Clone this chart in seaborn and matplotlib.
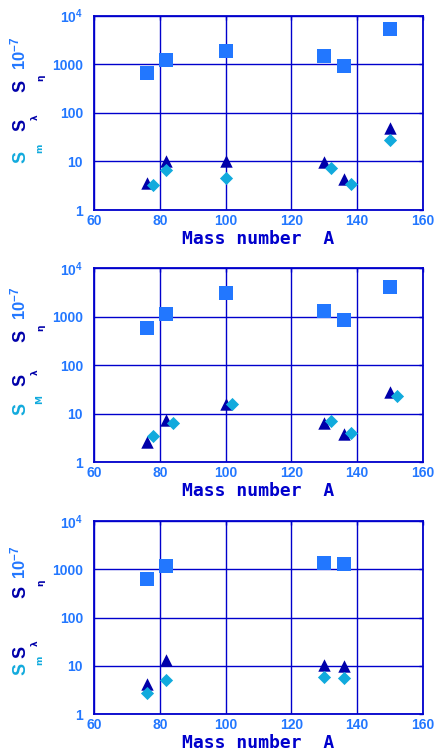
import numpy as np
import pandas as pd
import matplotlib
matplotlib.use("Agg")
import matplotlib.pyplot as plt
from matplotlib.ticker import FixedLocator, NullLocator, FixedFormatter
import seaborn as sns

sns.set_style("white")
plt.rcParams["mathtext.fontset"] = "custom"
plt.rcParams["mathtext.rm"] = "Liberation Sans:bold"
plt.rcParams["mathtext.bf"] = "Liberation Sans:bold"
plt.rcParams["mathtext.it"] = "Liberation Sans:bold"
plt.rcParams["mathtext.sf"] = "Liberation Sans:bold"

# ---- data: mass number A and the three quantities for each panel ----
# panel 1
p1_sq_A = [76, 82, 100, 130, 136, 150]
p1_sq_v = [670, 1220, 1850, 1500, 905, 5400]
p1_tri_A = [76, 82, 100, 130, 136, 150]
p1_tri_v = [3.55, 10.2, 10.0, 9.9, 4.3, 49.5]
p1_dia_A = [78, 82, 100, 132, 138, 150]
p1_dia_v = [3.27, 6.6, 4.6, 7.2, 3.5, 27.6]

# panel 2
p2_sq_A = [76, 82, 100, 130, 136, 150]
p2_sq_v = [590, 1125, 3050, 1300, 850, 4060]
p2_tri_A = [76, 82, 100, 130, 136, 150]
p2_tri_v = [2.65, 7.4, 15.6, 6.5, 3.9, 27.5]
p2_dia_A = [78, 84, 102, 132, 138, 152]
p2_dia_v = [3.5, 6.5, 15.9, 7.0, 4.1, 23.3]

# panel 3
p3_sq_A = [76, 82, 130, 136]
p3_sq_v = [615, 1140, 1335, 1250]
p3_tri_A = [76, 82, 130, 136]
p3_tri_v = [4.2, 13.3, 10.6, 9.8]
p3_dia_A = [76, 82, 130, 136]
p3_dia_v = [2.8, 5.2, 6.0, 5.6]

x_ticks = [60, 80, 100, 120, 140, 160]
x_tick_labels = ["60", "80", "100", "120", "140", "160"]
y_ticks = [1, 10, 100, 1000, 10000]
y_tick_labels = ["1", "10", "100", "1000", r"$\mathbf{10^4}$"]
x_title = "Mass number  A"

# ---- styling ----
C_SQ = "#2277ff"
C_TRI = "#0000aa"
C_DIA = "#11aadd"
C_GRID = "#0000cc"
C_TICK = "#2277ff"

W, H = 435, 752
fig = plt.figure(figsize=(W / 100, H / 100), dpi=100)

# axes rectangles in pixels: left, top, right, bottom
boxes = [(94, 15.7, 423, 210), (94, 268.3, 423, 462.3), (94, 520.7, 423, 714.3)]

panels = [
    (p1_sq_A, p1_sq_v, p1_tri_A, p1_tri_v, p1_dia_A, p1_dia_v),
    (p2_sq_A, p2_sq_v, p2_tri_A, p2_tri_v, p2_dia_A, p2_dia_v),
    (p3_sq_A, p3_sq_v, p3_tri_A, p3_tri_v, p3_dia_A, p3_dia_v),
]

# y-label symbols: (subscript, colour, y of the S, y of the subscript, x of the subscript)
ylabel_syms = [
    [("m", C_DIA, 157, 148, 40), ("λ", C_TRI, 125, 117, 35), ("η", C_TRI, 86, 78, 41)],
    [("M", C_DIA, 409, 399, 40), ("λ", C_TRI, 380, 372, 35), ("η", C_TRI, 336, 328, 41)],
    [("m", C_DIA, 669, 660, 40), ("λ", C_TRI, 652, 643, 35), ("η", C_TRI, 592, 583, 41)],
]
# y of the 10^-7 factor for each panel
ylabel_factor_y = [53, 303, 562]

for (l, t, r, b), (sa, sv, ta, tv, da, dv), syms, fy in zip(boxes, panels, ylabel_syms, ylabel_factor_y):
    ax = fig.add_axes([l / W, 1 - b / H, (r - l) / W, (b - t) / H])
    ax.set_yscale("log")
    ax.set_xlim(60, 160)
    ax.set_ylim(1, 10000)
    ax.set_axisbelow(True)

    sns.scatterplot(x=sa, y=sv, ax=ax, marker="s", s=90, color=C_SQ, linewidth=0, zorder=3)
    sns.scatterplot(x=ta, y=tv, ax=ax, marker="^", s=80, color=C_TRI, linewidth=0, zorder=3)
    sns.scatterplot(x=da, y=dv, ax=ax, marker="D", s=45, color=C_DIA, linewidth=0, zorder=4)

    ax.xaxis.set_major_locator(FixedLocator(x_ticks))
    ax.xaxis.set_major_formatter(FixedFormatter(x_tick_labels))
    ax.yaxis.set_major_locator(FixedLocator(y_ticks))
    ax.yaxis.set_major_formatter(FixedFormatter(y_tick_labels))
    ax.xaxis.set_minor_locator(NullLocator())
    ax.yaxis.set_minor_locator(NullLocator())

    ax.grid(True, color=C_GRID, linewidth=1.0)
    for sp in ax.spines.values():
        sp.set_color(C_GRID)
        sp.set_linewidth(1.3)
    ax.tick_params(axis="both", direction="in", length=3, width=1, color=C_GRID,
                   top=True, right=True, labelcolor=C_TICK)
    ax.tick_params(axis="x", pad=3)
    ax.tick_params(axis="y", pad=8)
    for lab in ax.get_xticklabels() + ax.get_yticklabels():
        lab.set_fontfamily("Liberation Sans")
        lab.set_fontweight("bold")
        lab.set_fontsize(10)

    ax.set_xlabel(x_title, fontsize=13, fontweight="bold", color=C_GRID,
                  family="DejaVu Sans Mono", labelpad=1)
    ax.set_ylabel("")

    # vertical y-axis title built from separate coloured pieces
    for sub, col, ys, ysub, xsub in syms:
        fig.text(25 / W, 1 - ys / H, "S", rotation=90, rotation_mode="anchor",
                 ha="center", va="baseline", color=col, fontsize=13,
                 fontweight="bold", family="Liberation Sans")
        fig.text(xsub / W, 1 - ysub / H, sub, rotation=90, rotation_mode="anchor",
                 ha="center", va="center", color=col, fontsize=6.5,
                 fontweight="bold", family="DejaVu Sans")
    fig.text(25 / W, 1 - fy / H, r"10$^{-7}$", rotation=90, rotation_mode="anchor",
             ha="center", va="baseline", color=C_SQ, fontsize=12,
             fontweight="bold", family="Liberation Sans")

fig.savefig("out.png", dpi=100)
